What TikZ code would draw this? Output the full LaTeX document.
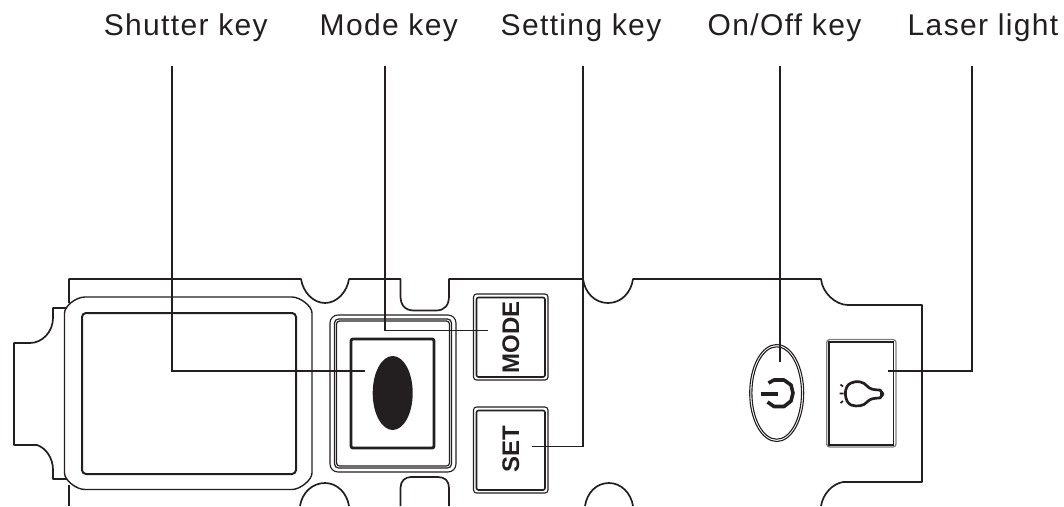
\documentclass[tikz,border=0pt]{standalone}
\usepackage{fontspec}
\usetikzlibrary{shapes.geometric}
\setmainfont{Liberation Sans}
\newfontfamily\labfont[LetterSpace=4.5]{Liberation Sans}
\definecolor{ink}{HTML}{231F20}
\tikzset{
  lab/.style={inner sep=0pt,anchor=base,font=\labfont\fontsize{30}{30}\selectfont,text=ink},
  keytext/.style={inner sep=0pt,rotate=90,text=ink,font=\fontsize{24}{24}\selectfont\bfseries},
  body/.style={draw=ink,line width=1.7pt,line join=round},
  thin/.style={draw=ink,line width=1.1pt},
  lead/.style={draw=ink,line width=1.8pt},
}
\begin{document}
\begin{tikzpicture}[x=1pt,y=-1pt]
\useasboundingbox (0,0) rectangle (1064,506);
% casing outline
\draw[body] (69,303) -- (69,279) -- (301,279) .. controls (303,292) and (313,303) .. (325,303) .. controls (337,303) and (347,292) .. (349,279) -- (400.5,279) -- (400.5,296) .. controls (400.5,305) and (405,310.5) .. (414,310.5) -- (436,310.5) .. controls (445,310.5) and (449,305) .. (449,296) -- (449,279) -- (583,279) .. controls (585,293) and (595,303) .. (608,303) .. controls (621,303) and (631,293) .. (633,279) -- (821,279) .. controls (822,292) and (835,305) .. (848,305) -- (922,305) -- (922,482) -- (843,482) .. controls (832,484) and (823,494) .. (821,506);
\draw[body] (67,308) -- (53,308) -- (53,318) .. controls (53,332) and (42,343) .. (30,343) -- (14,343) -- (14,445) -- (37,445) .. controls (46,448) and (53,458) .. (53,470) -- (53,479) -- (67,479);
\draw[body] (69,485) -- (69,506);
\draw[body] (300,506) .. controls (302,493) and (312,483) .. (325,483) .. controls (337,483) and (347,493) .. (349,506);
\draw[body] (400.5,506) -- (400.5,488) .. controls (400.5,481) and (405,477) .. (411,477) -- (438,477) .. controls (445,477) and (449,481) .. (449,488) -- (449,506);
\draw[body] (585,506) .. controls (587,493) and (596,483) .. (609,483) .. controls (621,483) and (631,493) .. (633,506);
% display
\draw[draw=ink,line width=1.4pt,line join=round] (85,297) -- (292,297) .. controls (300,297) and (312,306) .. (312,313) -- (312,473) .. controls (312,480) and (300,489.5) .. (292,489.5) -- (85,489.5) .. controls (76,489.5) and (64.5,480) .. (64.5,473) -- (64.5,313) .. controls (64.5,306) and (76,297) .. (85,297) -- cycle;
\draw[draw=ink,line width=2pt,rounded corners=4pt] (82,313) rectangle (296,474);
% shutter key
\draw[thin,rounded corners=8pt] (330,315) rectangle (456,472);
\draw[draw=ink,line width=1.2pt,rounded corners=4pt] (334.5,319) rectangle (451.5,468);
\draw[draw=ink,line width=1.2pt,rounded corners=3pt] (336.5,321) rectangle (449.5,466);
\draw[draw=ink,line width=2.8pt,rounded corners=2pt] (351,339) rectangle (434,448);
\node[ellipse,fill=ink,minimum width=40pt,minimum height=74pt,inner sep=0pt] (shutter) at (392.7,393) {};
% mode and set keys
\draw[thin,rounded corners=3pt] (473.5,294) rectangle (548,380);
\draw[draw=ink,line width=1.6pt,rounded corners=2pt] (476.5,297.5) rectangle (545,377);
\node[keytext] (modekey) at (510.8,337) {MODE};
\draw[thin,rounded corners=3pt] (473.5,407) rectangle (548,493);
\draw[draw=ink,line width=1.6pt,rounded corners=2pt] (476.5,410.5) rectangle (545,490);
\node[keytext] (setkey) at (510.8,449.5) {SET};
% power key
\draw[thin] (776.7,393) ellipse [x radius=27,y radius=48.5];
\draw[thin] (776.7,393) ellipse [x radius=24.8,y radius=46.2];
\draw[draw=ink,line width=3.6pt,line join=round] (768.5,383) -- (774,380) -- (784,380) -- (791,385) -- (793,393) -- (791,401) -- (784,406.5) -- (774,406.5) -- (767.5,402);
\draw[draw=ink,line width=3.6pt] (760.7,393.7) -- (777.7,393.7);
% laser key
\draw[draw=gray,line width=1.3pt,rounded corners=3pt] (826.7,339.5) rectangle (896,447);
\draw[draw=ink,line width=1.7pt] (829,342) rectangle (893.5,445);
\draw[draw=ink,line width=2.7pt,line join=round] (851,383) .. controls (857,380) and (864,382) .. (867,386) .. controls (870,389) and (873,390) .. (880,390) -- (883,394) -- (880,398) .. controls (873,398) and (870,399) .. (867,402) .. controls (864,406) and (857,407) .. (851,405) .. controls (844,402) and (843,386) .. (851,383) -- cycle;
\draw[draw=ink,line width=3pt] (881,391) -- (881,397);
\draw[draw=ink,line width=1.7pt] (840.5,384.5) -- (843,386.5) (839.5,393.5) -- (843.5,393.5) (840.5,403) -- (843,401);
% labels
\node[lab] (lshutter) at (185.8,35) {Shutter key};
\node[lab] (lmode) at (388.8,35) {Mode key};
\node[lab] (lset) at (581,35) {Setting key};
\node[lab] (lonoff) at (784.5,35) {On/Off key};
\node[lab] (llaser) at (983,35) {Laser light};
% connector ends
\coordinate (s0) at (172,66); \coordinate (s1) at (365,371);
\coordinate (m0) at (385,66); \coordinate (m1) at (487.5,330.5);
\coordinate (t0) at (583,66); \coordinate (t1) at (532,446.5);
\coordinate (o0) at (780,66); \coordinate (o1) at (780,362);
\coordinate (l0) at (972,66); \coordinate (l1) at (888,371);
\draw[lead] (s0) |- (s1);
\draw[lead] (m0) |- (m1);
\draw[lead] (t0) |- (t1);
\draw[lead] (o0) -- (o1);
\draw[lead] (l0) |- (l1);
\end{tikzpicture}
\end{document}
